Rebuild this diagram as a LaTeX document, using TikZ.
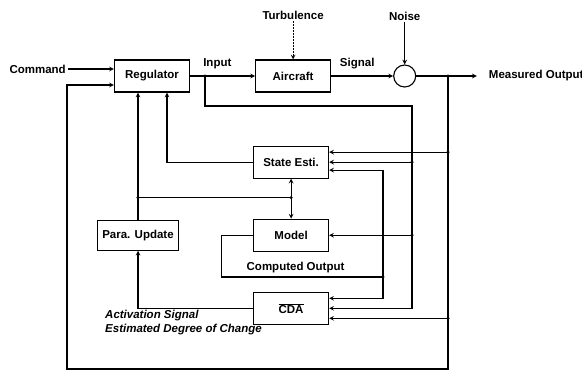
\documentclass[tikz,border=0pt]{standalone}
\usepackage{fontspec}
\setmainfont{Liberation Sans}
\usetikzlibrary{shapes,arrows,positioning,calc}

\begin{document}
\begin{tikzpicture}[
        x=1pt, y=-1pt,
        font=\fontsize{11.5}{14}\selectfont\bfseries,
        box/.style={rectangle, draw=black, line width=1.1pt, minimum width=75pt, minimum height=32pt, inner sep=2pt},
        sumnode/.style={circle, draw=black, line width=1.1pt, minimum size=22pt, inner sep=0pt},
        txt/.style={inner sep=2pt},
        arrow/.style={->, line width=1.1pt, >=stealth},
        line/.style={line width=1.1pt}
    ]
    \useasboundingbox (0,0) rectangle (582,372);

    \node[box] (reg) at (152,76) {Regulator};
    \node[box] (air) [right=65pt of reg] {Aircraft};
    \node[sumnode] (sum) [right=62pt of air] {};
    \node[box] (se) [below=53pt of air, xshift=-2pt] {State Esti.};
    \node[box] (model) [below=40pt of se] {Model};
    \node[box] (cda) [below=40pt of model] {$\overline{\mbox{CDA}}$};
    \node[box, minimum width=81pt, minimum height=30pt] (pu) [left=74pt of model] {Para. Update};

    \node[txt] (cmd) [left=46pt of reg, yshift=7pt] {Command};
    \node[txt] (turb) [above=38pt of air] {Turbulence};
    \node[txt] (noise) [above=42pt of sum] {Noise};
    \node[txt] (meas) [right=70.5pt of sum] {Measured Output};
    \node[txt, font=\fontsize{11.5}{14}\selectfont\bfseries\itshape, align=left, anchor=north west] (act) at (103,308) {Activation Signal\\Estimated Degree of Change};

    \coordinate (inj) at (205,76);
    \coordinate (inr) at (412,106);
    \coordinate (mj) at (448,76);
    \coordinate (co) at (383,277);
    \coordinate (se1) at ($(se.east)+(0,-10)$);
    \coordinate (se3) at ($(se.east)+(0,8)$);
    \coordinate (cda1) at ($(cda.east)+(0,-10)$);
    \coordinate (cda3) at ($(cda.east)+(0,10)$);
    \coordinate (reg2) at ($(reg.west)+(0,9)$);
    \coordinate (reg4) at ($(reg.south)+(15,0)$);
    \path (pu.north) ++(0,-22) coordinate (pj);
    \coordinate (pj2) at (se |- pj);

    \draw[arrow] (cmd) -- (cmd -| reg.west);
    \draw[arrow] (reg) -- node[above=3pt, pos=0.42] {Input} (air);
    \draw[arrow] (air) -- node[above=3pt, pos=0.42] {Signal} (sum);
    \draw[arrow, dash pattern=on 1.5pt off 1.5pt] (turb) -- (air);
    \draw[arrow] (noise) -- (sum);
    \draw[arrow, shorten >=10pt] (sum) -- (meas);

    \draw[arrow] (inj) |- (inr) |- (cda.east);
    \draw[arrow] (inr |- se.east) -- (se.east);
    \draw[arrow] (inr |- model.east) -- (model.east);

    \draw[arrow] (mj) |- (67,369) |- (reg2);
    \draw[arrow] (mj |- se1) -- (se1);
    \draw[arrow] (mj |- cda3) -- (cda3);

    \draw[line] (model.west) -- ++(-32,0) |- node[pos=0.73, above] {Computed Output} (co);
    \draw[arrow] (co) |- (se3);
    \draw[arrow] (co) |- (cda1);

    \draw[arrow] (se) -| (reg4);
    \draw[arrow] (pu) -- (pu |- reg.south);
    \draw[line] (pj) -- (pj2);
    \draw[arrow] (pj2) -- (se);
    \draw[arrow] (pj2) -- (model);
    \draw[arrow] (cda) -| (pu);

    \foreach \p in {inj, mj, co, pj, pj2}
        \fill (\p) circle (1.7pt);
    \fill (inr |- se.east) circle (1.7pt);
    \fill (inr |- model.east) circle (1.7pt);
    \fill (mj |- se1) circle (1.7pt);
    \fill (mj |- cda3) circle (1.7pt);

\end{tikzpicture}
\end{document}
